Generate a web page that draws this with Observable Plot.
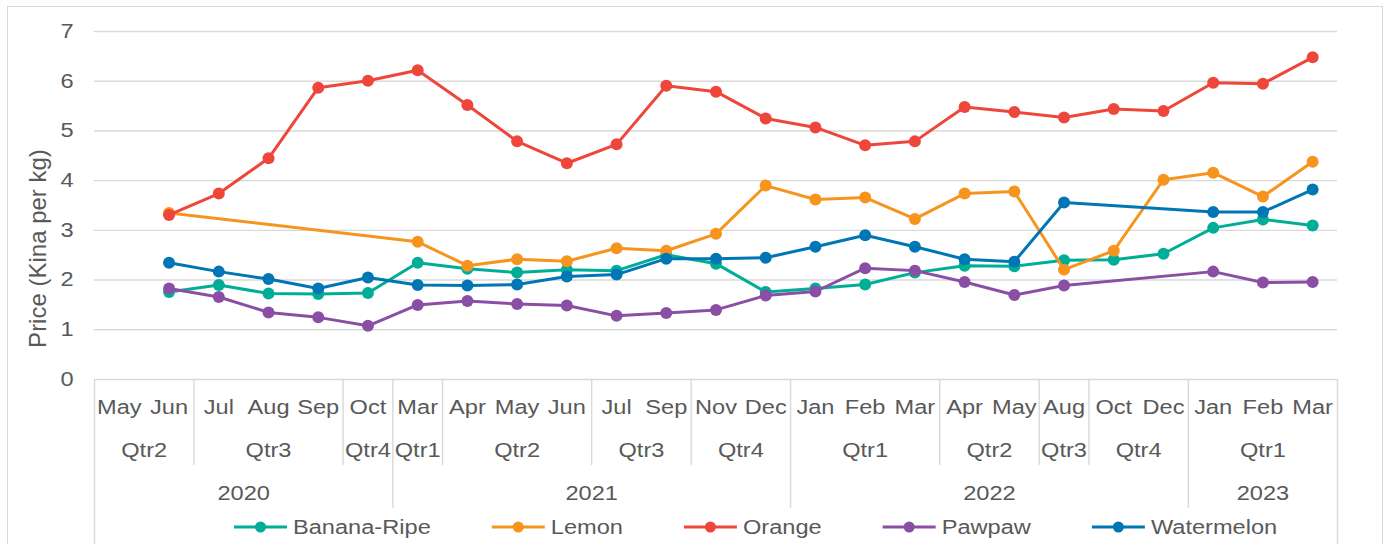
<!DOCTYPE html>
<html><head><meta charset="utf-8">
<script src="https://cdn.jsdelivr.net/npm/d3@7"></script>
<script src="https://cdn.jsdelivr.net/npm/@observablehq/plot@0.6"></script>
<style>
body{margin:0;background:#fff;font-family:"Liberation Sans",Arial,sans-serif;}
#wrap{position:relative;width:1387px;height:544px;overflow:hidden;background:#fff;}
#border{position:absolute;left:7px;top:6px;width:1376px;height:620px;border:1px solid #d9d9d9;box-sizing:border-box;}
#chart{position:absolute;left:0;top:0;}
#legend{position:absolute;left:0;top:510px;}
</style></head>
<body><div id="wrap"><div id="border"></div><div id="chart"></div><svg id="legend" width="1387" height="34"></svg></div>
<script>
// ---- data ----
const months   = ["May","Jun","Jul","Aug","Sep","Oct","Mar","Apr","May","Jun","Jul","Sep","Nov","Dec","Jan","Feb","Mar","Apr","May","Aug","Oct","Dec","Jan","Feb","Mar"];
const quarters = ["Qtr2","Qtr2","Qtr3","Qtr3","Qtr3","Qtr4","Qtr1","Qtr2","Qtr2","Qtr2","Qtr3","Qtr3","Qtr4","Qtr4","Qtr1","Qtr1","Qtr1","Qtr2","Qtr2","Qtr3","Qtr4","Qtr4","Qtr1","Qtr1","Qtr1"];
const years    = ["2020","2020","2020","2020","2020","2020","2021","2021","2021","2021","2021","2021","2021","2021","2022","2022","2022","2022","2022","2022","2022","2022","2023","2023","2023"];

const bananaRipe = [null,1.76,1.90,1.73,1.72,1.74,2.35,2.23,2.15,2.21,2.19,2.51,2.33,1.76,1.83,1.91,2.15,2.29,2.28,2.40,2.41,2.53,3.05,3.22,3.10];
const lemon      = [null,3.35,null,null,null,null,2.77,2.29,2.42,2.38,2.64,2.59,2.93,3.90,3.62,3.66,3.23,3.74,3.78,2.21,2.59,4.02,4.16,3.68,4.38];
const orange     = [null,3.31,3.74,4.45,5.87,6.01,6.22,5.52,4.79,4.35,4.73,5.91,5.79,5.25,5.07,4.71,4.79,5.48,5.38,5.27,5.44,5.40,5.97,5.95,6.48];
const pawpaw     = [null,1.83,1.66,1.35,1.25,1.08,1.50,1.58,1.52,1.49,1.28,1.34,1.40,1.69,1.77,2.24,2.19,1.96,1.70,1.89,null,null,2.17,1.95,1.96];
const watermelon = [null,2.35,2.17,2.02,1.83,2.05,1.90,1.89,1.91,2.07,2.11,2.43,2.43,2.45,2.67,2.90,2.67,2.42,2.37,3.56,null,null,3.37,3.37,3.82];

const seriesNames  = ["Banana-Ripe","Lemon","Orange","Pawpaw","Watermelon"];
const seriesValues = [bananaRipe, lemon, orange, pawpaw, watermelon];
const seriesColors = ["#00ae98","#f7941d","#ef463b","#8a4fa5","#0077b4"];
const yTicks = [0,1,2,3,4,5,6,7];
const yTitle = "Price (Kina per kg)";

// ---- layout / style ----
const W = 1387, H = 544, mTop = 31, mBottom = 165, mLeft = 94, mRight = 50;
const frameH = H - mTop - mBottom;
const TXT = "#595959", GRID = "#d9d9d9", STRETCH = 1.18;

const n = months.length;
const cats = months.map((m, i) => ({i, month: m, quarter: quarters[i], year: years[i]}));
function runs(keyFn, labelFn) {
  const out = [];
  cats.forEach((c, i) => {
    const k = keyFn(c);
    if (!out.length || out[out.length - 1].key !== k) out.push({key: k, label: labelFn(c), start: i, end: i + 1});
    else out[out.length - 1].end = i + 1;
  });
  return out;
}
const qRuns = runs(c => c.year + c.quarter, c => c.quarter);
const yRuns = runs(c => c.year, c => c.year);
const yearStarts = new Set(yRuns.map(r => r.start));
const quarterInner = qRuns.map(r => r.start).filter(s => !yearStarts.has(s));
const yearInner = yRuns.map(r => r.start).filter(s => s !== 0);
const outer = [0, n];

const seriesMarks = seriesNames.flatMap((name, k) => {
  const pts = seriesValues[k].map((v, i) => ({x: i + 0.5, v})).filter(d => d.v != null);
  return [
    Plot.line(pts, {x: "x", y: "v", stroke: seriesColors[k], strokeWidth: 3}),
    Plot.dot(pts, {x: "x", y: "v", fill: seriesColors[k], r: 6})
  ];
});

const plot = Plot.plot({
  width: W, height: H,
  marginTop: mTop, marginBottom: mBottom, marginLeft: mLeft, marginRight: mRight,
  style: {fontFamily: "'Liberation Sans', Arial, sans-serif", fontSize: "20px", color: TXT, background: "transparent"},
  x: {type: "linear", domain: [0, n], axis: null},
  y: {domain: [0, 7], axis: null},
  marks: [
    Plot.gridY(yTicks, {stroke: GRID, strokeOpacity: 1, strokeWidth: 1.4}),
    Plot.axisY(yTicks, {tickSize: 0, tickPadding: 21, fontSize: 20, fill: TXT, label: null, tickFormat: d => String(d)}),
    Plot.ruleX(quarterInner, {x: d => d, stroke: GRID, strokeWidth: 1.4, insetTop: frameH, insetBottom: -86}),
    Plot.ruleX(yearInner, {x: d => d, stroke: GRID, strokeWidth: 1.4, insetTop: frameH, insetBottom: -129}),
    Plot.ruleX(outer, {x: d => d, stroke: GRID, strokeWidth: 1.4, insetTop: frameH, insetBottom: -170}),
    Plot.text(cats, {x: d => d.i + 0.5, text: "month", frameAnchor: "bottom", lineAnchor: "middle", dy: 28, fill: TXT, fontSize: 20}),
    Plot.text(qRuns, {x: d => (d.start + d.end) / 2, text: "label", frameAnchor: "bottom", lineAnchor: "middle", dy: 71, fill: TXT, fontSize: 20}),
    Plot.text(yRuns, {x: d => (d.start + d.end) / 2, text: "label", frameAnchor: "bottom", lineAnchor: "middle", dy: 114, fill: TXT, fontSize: 20}),
    Plot.text([yTitle], {text: d => d, frameAnchor: "left", textAnchor: "middle", lineAnchor: "middle", rotate: -90, dx: -56, dy: 43, fill: TXT, fontSize: 24, className: "ytitle"}),
    ...seriesMarks
  ]
});
document.getElementById("chart").appendChild(plot);

function stretchText(t) {
  const len = t.getComputedTextLength();
  if (len > 0) {
    t.setAttribute("textLength", (len * STRETCH).toFixed(2));
    t.setAttribute("lengthAdjust", "spacingAndGlyphs");
  }
  return len * STRETCH;
}
plot.querySelectorAll("text").forEach(t => {
  if (t.closest(".ytitle")) return;
  stretchText(t);
});

// ---- legend ----
const leg = d3.select("#legend")
  .style("font-family", "'Liberation Sans', Arial, sans-serif").style("font-size", "20px");
let cx = 234;
seriesNames.forEach((name, k) => {
  const g = leg.append("g").attr("transform", `translate(${cx},17)`);
  g.append("line").attr("x1", 0).attr("x2", 53).attr("stroke", seriesColors[k]).attr("stroke-width", 3);
  g.append("circle").attr("cx", 26.5).attr("r", 5.5).attr("fill", seriesColors[k]);
  const t = g.append("text").attr("x", 59).attr("dy", "0.35em").attr("fill", TXT).text(name);
  const w = stretchText(t.node());
  cx += 59 + w + 61;
});
</script>
</body></html>
